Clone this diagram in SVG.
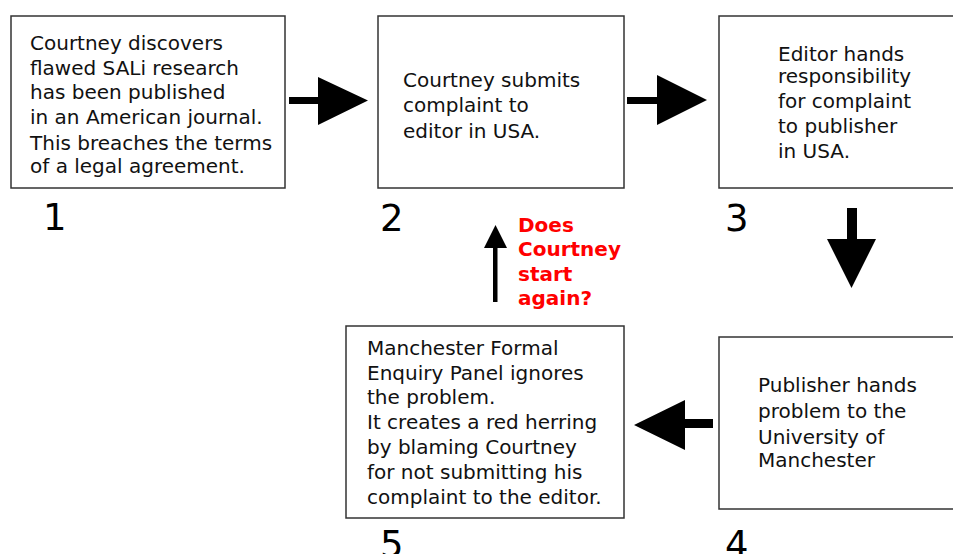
<svg xmlns="http://www.w3.org/2000/svg" width="953" height="554" viewBox="0 0 953 554">
<style>
.box{fill:#fff;stroke:#333;stroke-width:1.5}
.t{font-family:"DejaVu Sans",Verdana,sans-serif;font-size:20px;fill:#111}
.n{font-family:"DejaVu Sans",Verdana,sans-serif;font-size:37px;fill:#000}
.q{font-family:"DejaVu Sans",Verdana,sans-serif;font-size:20px;fill:#ff0000;font-weight:bold}
.a{fill:#000}
</style>
<rect width="953" height="554" fill="#fff"/>
<g id="node1">
<rect class="box" x="11" y="16" width="274" height="172"/>
<text class="t" x="30" y="50">Courtney discovers</text>
<text class="t" x="30" y="75">flawed SALi research</text>
<text class="t" x="30" y="99">has been published</text>
<text class="t" x="30" y="124">in an American journal.</text>
<text class="t" x="30" y="150">This breaches the terms</text>
<text class="t" x="30" y="173">of a legal agreement.</text>
<text class="n" x="43" y="230">1</text>
</g>
<g id="node2">
<rect class="box" x="378" y="16" width="246" height="172"/>
<text class="t" x="403" y="87">Courtney submits</text>
<text class="t" x="403" y="112">complaint to</text>
<text class="t" x="403" y="138">editor in USA.</text>
<text class="n" x="380" y="231">2</text>
</g>
<g id="node3">
<rect class="box" x="719" y="16" width="250" height="172"/>
<text class="t" x="778" y="61">Editor hands</text>
<text class="t" x="778" y="83">responsibility</text>
<text class="t" x="778" y="108">for complaint</text>
<text class="t" x="778" y="133">to publisher</text>
<text class="t" x="778" y="158">in USA.</text>
<text class="n" x="725" y="231">3</text>
</g>
<g id="node4">
<rect class="box" x="719" y="337" width="250" height="172"/>
<text class="t" x="758" y="392">Publisher hands</text>
<text class="t" x="758" y="418">problem to the</text>
<text class="t" x="758" y="444">University of</text>
<text class="t" x="758" y="467">Manchester</text>
<text class="n" x="725" y="557">4</text>
</g>
<g id="node5">
<rect class="box" x="346" y="326" width="278" height="192"/>
<text class="t" x="367" y="355">Manchester Formal</text>
<text class="t" x="367" y="380">Enquiry Panel ignores</text>
<text class="t" x="367" y="404">the problem.</text>
<text class="t" x="367" y="429">It creates a red herring</text>
<text class="t" x="367" y="454">by blaming Courtney</text>
<text class="t" x="367" y="479">for not submitting his</text>
<text class="t" x="367" y="504">complaint to the editor.</text>
<text class="n" x="380" y="557">5</text>
</g>
<g id="connectors">
<path class="a" d="M289,97 H318 V77 L368,100.5 L318,125 V104 H289 Z"/>
<path class="a" d="M627,97 H657 V75 L707,100 L657,125 V104 H627 Z"/>
<path class="a" d="M847,208 H857 V239 H876 L851.5,288 L827,239 H847 Z"/>
<path class="a" d="M713,419 H685 V400 L634,425 L685,450 V428 H713 Z"/>
<path class="a" d="M493,302 V248 H484 L495.5,225 L507,248 H497.5 V302 Z"/>
</g>
<g id="question">
<text class="q" x="518" y="232">Does</text>
<text class="q" x="518" y="256">Courtney</text>
<text class="q" x="518" y="281">start</text>
<text class="q" x="518" y="305">again?</text>
</g>
</svg>
